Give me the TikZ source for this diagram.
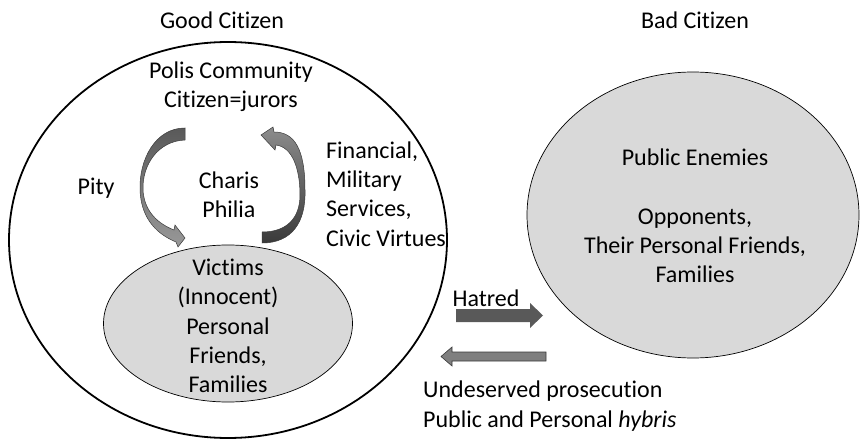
\documentclass[tikz,border=0pt]{standalone}
\usepackage{fontspec}
\setmainfont{Carlito}[Ligatures=NoCommon]
\usetikzlibrary{positioning,calc}
\definecolor{groupgray}{HTML}{D9D9D9}
\definecolor{edgegray}{HTML}{3A3A3A}
\definecolor{hategray}{HTML}{595959}
\definecolor{backgray}{HTML}{7F7F7F}

\begin{document}
\begin{tikzpicture}[
  x=1pt, y=-1pt,
  lbl/.style={font=\fontsize{24}{29.3}\selectfont, align=center, inner sep=0pt},
  ring/.style={draw, line width=1.8pt},
  group/.style={draw, line width=0.7pt, fill=groupgray},
  curved/.style={draw=edgegray, line width=0.5pt},
  block/.style={draw=edgegray, line width=0.6pt}
]
\useasboundingbox (0,0) rectangle (860,441);

% the two communities
\draw[ring] (228,240) ellipse [x radius=219, y radius=198];
\draw[group] (228,323.5) ellipse [x radius=124.5, y radius=78.5];
\draw[group] (693,215) ellipse [x radius=166, y radius=143];

% headings
\node[lbl] (good) at (222,20) {Good Citizen};
\node[lbl] (bad) at (695,20) {Bad Citizen};

% inside the polis
\node[lbl] (polis) at (231,87) {Polis Community\\Citizen=jurors};
\node[lbl] (pity) at (96,188) {Pity};
\node[lbl] (charis) at (229,195) {Charis\\Philia};
\node[lbl, align=left, anchor=west] (services) at (326,194) {Financial,\\Military\\Services,\\Civic Virtues};
\node[lbl] (victims) at (228,326) {Victims\\(Innocent)\\Personal\\Friends,\\Families};

% outside the polis
\node[lbl] (enemies) at (695,216) {Public Enemies\\[29.3pt]Opponents,\\Their Personal Friends,\\Families};

% pity flowing down, services flowing back up
\shade[curved, top color=hategray, bottom color=backgray!80]
  (185,128) .. controls (155,128) and (139,160) .. (140,190)
  .. controls (141,214) and (152,232) .. (176,242)
  -- (178,247) -- (185,238) -- (175,225) -- (174,230)
  .. controls (154,222) and (144,208) .. (143,190)
  .. controls (142,165) and (158,141) .. (185,140) -- cycle;
\shade[curved, top color=backgray!90, bottom color=edgegray]
  (262,243) .. controls (292,243) and (306,222) .. (305,190)
  .. controls (305,150) and (295,132) .. (274,132)
  -- (273,127) -- (261,135) -- (275,150) -- (276,145)
  .. controls (292,147) and (300,168) .. (300,195)
  .. controls (300,218) and (287,232) .. (262,232) -- cycle;

% hatred towards the enemies
\node[lbl] (hatred) at (486,298) {Hatred};
\coordinate (hate-tail) at (456,315.5);
\coordinate (hate-tip) at (543,315.5);
\fill[hategray] ($(hate-tail)+(0,-6.5)$) -- ($(hate-tip)+(-13,-6.5)$)
  -- ($(hate-tip)+(-13,-12.5)$) -- (hate-tip) -- ($(hate-tip)+(-13,12.5)$)
  -- ($(hate-tip)+(-13,6.5)$) -- ($(hate-tail)+(0,6.5)$) -- cycle;

% prosecution coming back
\coordinate (back-tail) at (546,356.5);
\coordinate (back-tip) at (441,356.5);
\filldraw[block, fill=backgray] ($(back-tail)+(0,-4.5)$) -- ($(back-tip)+(11,-4.5)$)
  -- ($(back-tip)+(11,-9.5)$) -- (back-tip) -- ($(back-tip)+(11,9.5)$)
  -- ($(back-tip)+(11,4.5)$) -- ($(back-tail)+(0,4.5)$) -- cycle;
\node[lbl, align=left, anchor=west] (prosecution) at (423,406)
  {Undeserved prosecution\\Public and Personal \textit{hybris}};
\end{tikzpicture}
\end{document}
